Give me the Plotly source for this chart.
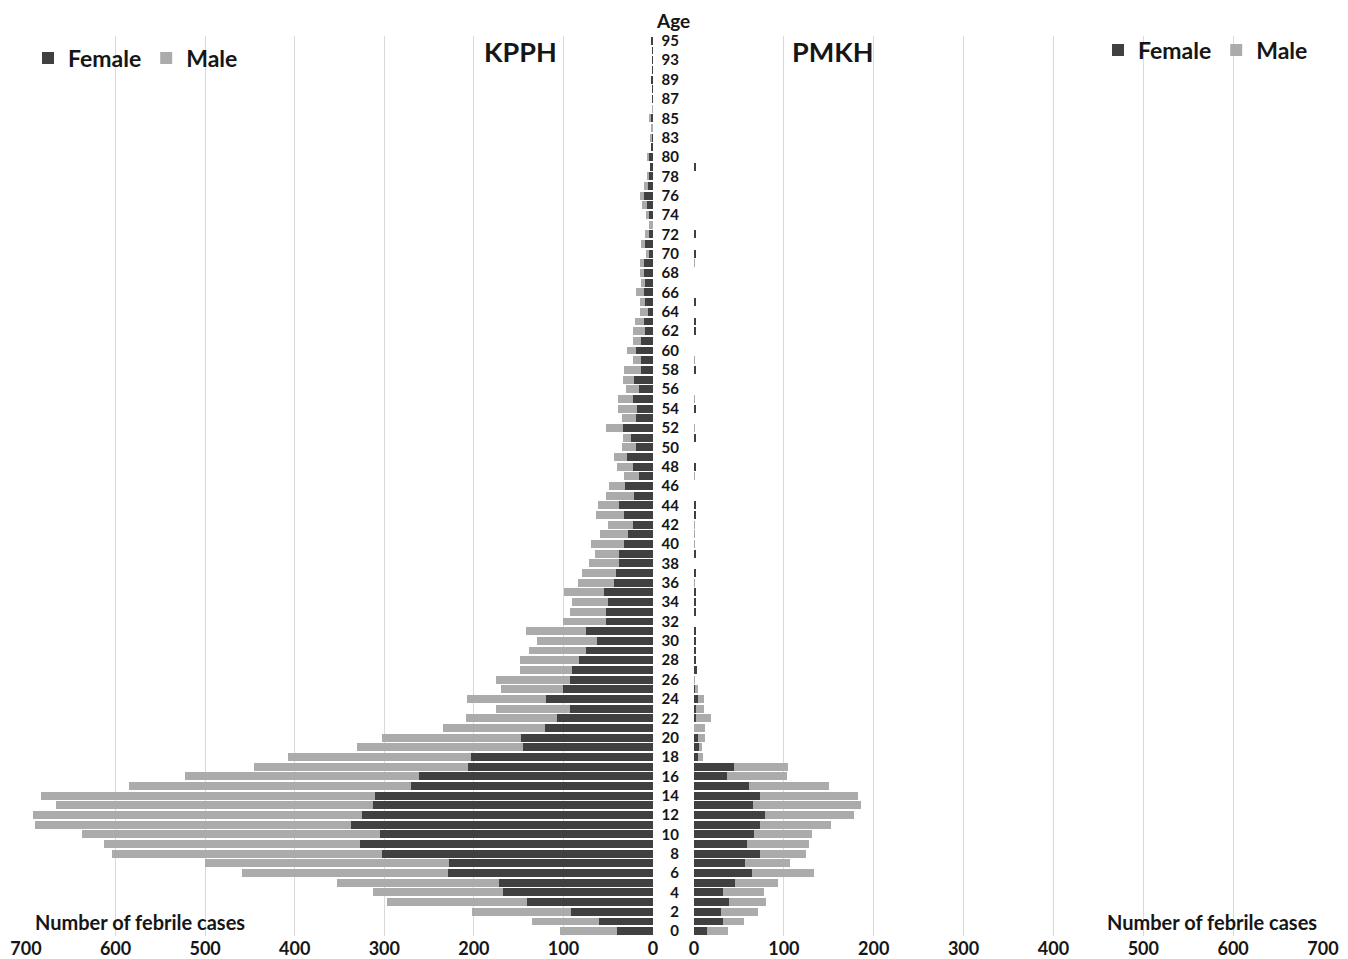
import plotly.graph_objects as go

# Age categories (two ages are not present in the data above 80)
ages = [str(a) for a in list(range(0, 81)) + [82, 83, 84, 85, 86, 87, 88, 89, 90, 93, 94, 95]]

kpph_female = [40, 60, 92, 141, 167, 172, 229, 228, 303, 327,
               305, 337, 325, 313, 310, 270, 261, 207, 203, 145,
               147, 121, 107, 93, 120, 101, 93, 90, 83, 75,
               63, 75, 53, 53, 50, 55, 44, 41, 38, 38,
               32, 28, 22, 32, 38, 21, 31, 16, 22, 29,
               19, 25, 33, 19, 18, 22, 16, 21, 13, 13,
               19, 13, 9, 10, 6, 9, 10, 9, 10, 10,
               5, 9, 5, 0, 5, 7, 10, 6, 5, 3,
               4, 2, 2, 1, 2, 0, 1, 1, 2, 1, 1, 1, 2]
kpph_male = [64, 75, 110, 156, 146, 181, 230, 272, 301, 286,
             332, 353, 367, 353, 373, 315, 262, 238, 205, 186,
             155, 114, 102, 82, 88, 69, 82, 59, 66, 64,
             67, 67, 47, 40, 40, 44, 40, 38, 34, 27,
             37, 31, 28, 32, 23, 32, 18, 16, 18, 15,
             16, 9, 20, 16, 21, 17, 14, 13, 19, 9,
             10, 9, 13, 10, 9, 6, 9, 4, 5, 5,
             3, 4, 4, 4, 3, 5, 5, 4, 2, 0,
             3, 0, 1, 1, 3, 1, 0, 0, 0, 0, 0, 0, 0]
pmkh_female = [15, 32, 30, 39, 32, 46, 64, 57, 73, 59,
               67, 73, 79, 66, 74, 61, 37, 45, 4, 6,
               5, 0, 2, 2, 4, 1, 0, 3, 2, 2,
               2, 2, 0, 2, 2, 2, 0, 2, 0, 2,
               0, 0, 0, 2, 2, 0, 0, 0, 2, 0,
               0, 2, 0, 0, 2, 0, 0, 0, 2, 0,
               0, 0, 2, 2, 0, 2, 0, 0, 0, 0,
               2, 0, 2, 0, 0, 0, 0, 0, 0, 2,
               0, 0, 0, 0, 0, 0, 0, 0, 0, 0, 0, 0, 0]
pmkh_male = [23, 24, 41, 41, 46, 47, 70, 50, 52, 69,
             64, 80, 99, 120, 108, 89, 67, 60, 6, 3,
             7, 12, 17, 9, 7, 4, 1, 0, 0, 0,
             0, 0, 0, 0, 0, 0, 1, 0, 0, 0,
             1, 1, 1, 0, 0, 0, 0, 1, 0, 0,
             0, 0, 1, 0, 0, 1, 0, 0, 0, 1,
             0, 0, 0, 0, 0, 0, 0, 0, 0, 1,
             0, 0, 0, 0, 0, 0, 0, 0, 0, 0,
             0, 0, 0, 0, 0, 0, 0, 0, 0, 0, 0, 0, 0]

x_ticks = [0, 100, 200, 300, 400, 500, 600, 700]
age_ticks = ages[::2]

DARK = "#404040"
LIGHT = "#ABABAB"
FONT = "Lato"
TXT = "#161616"

fig = go.Figure()
fig.add_trace(go.Bar(y=ages, x=kpph_female, orientation="h", name="Female",
                     marker=dict(color=DARK, line=dict(width=0)),
                     xaxis="x", yaxis="y", legend="legend"))
fig.add_trace(go.Bar(y=ages, x=kpph_male, orientation="h", name="Male",
                     marker=dict(color=LIGHT, line=dict(width=0)),
                     xaxis="x", yaxis="y", legend="legend"))
fig.add_trace(go.Bar(y=ages, x=pmkh_female, orientation="h", name="Female",
                     marker=dict(color=DARK, line=dict(width=0)),
                     xaxis="x2", yaxis="y2", legend="legend2"))
fig.add_trace(go.Bar(y=ages, x=pmkh_male, orientation="h", name="Male",
                     marker=dict(color=LIGHT, line=dict(width=0)),
                     xaxis="x2", yaxis="y2", legend="legend2"))

# page has an 8px body margin: figure is placed at (8, 8)
OFF = 8
W, H = 1348 - OFF, 959 - OFF
T, B = 36 - OFF, 23
PH = H - T - B

def px(x):
    return (x - OFF) / W

def py(y):
    return (959 - B - y) / PH

tickfont = dict(family=FONT, size=18, color=TXT, weight="bold")
xcommon = dict(tickvals=x_ticks, ticktext=[str(v) for v in x_ticks],
               showgrid=True, gridcolor="#D9D9D9", gridwidth=1,
               zeroline=False, showline=False, ticks="", tickfont=tickfont,
               automargin=False)

fig.update_layout(
    width=W, height=H,
    margin=dict(l=0, r=0, t=T, b=B, autoexpand=False),
    paper_bgcolor="white", plot_bgcolor="white",
    barmode="stack", bargap=0.18,
    font=dict(family=FONT, color=TXT),
    xaxis=dict(domain=[px(26), px(653)], range=[700, 0], anchor="y", **xcommon),
    xaxis2=dict(domain=[px(694), px(1323)], range=[0, 700], anchor="y2", **xcommon),
    yaxis=dict(type="category", categoryorder="array", categoryarray=ages,
               range=[-0.5, len(ages) - 0.5], showticklabels=False,
               showgrid=False, zeroline=False, anchor="x", automargin=False),
    yaxis2=dict(type="category", categoryorder="array", categoryarray=ages,
                range=[-0.5, len(ages) - 0.5], matches="y",
                tickvals=age_ticks, ticktext=age_ticks,
                showticklabels=True, side="left", ticks="outside", ticklen=11,
                tickcolor="rgba(0,0,0,0)", showgrid=False, zeroline=False,
                anchor="x2", automargin=False,
                tickfont=dict(family=FONT, size=15, color=TXT, weight="bold")),
    legend=dict(orientation="h", x=px(28), y=py(58), xanchor="left", yanchor="middle",
                bgcolor="rgba(0,0,0,0)", traceorder="normal",
                font=dict(family=FONT, size=23, color=TXT, weight="bold"),
                itemwidth=30),
    legend2=dict(orientation="h", x=px(1098), y=py(50), xanchor="left", yanchor="middle",
                 bgcolor="rgba(0,0,0,0)", traceorder="normal",
                 font=dict(family=FONT, size=23, color=TXT, weight="bold"),
                 itemwidth=30),
    annotations=[
        dict(text="KPPH", x=px(520), y=py(51), xref="paper", yref="paper",
             showarrow=False, xanchor="center", yanchor="middle",
             font=dict(family=FONT, size=27, color=TXT, weight="bold")),
        dict(text="PMKH", x=px(833), y=py(51), xref="paper", yref="paper",
             showarrow=False, xanchor="center", yanchor="middle",
             font=dict(family=FONT, size=27, color=TXT, weight="bold")),
        dict(text="Age", x=px(673), y=py(20), xref="paper", yref="paper",
             showarrow=False, xanchor="center", yanchor="middle",
             font=dict(family=FONT, size=19, color=TXT, weight="bold")),
        dict(text="Number of febrile cases", x=px(33), y=py(922), xref="paper", yref="paper",
             showarrow=False, xanchor="left", yanchor="middle",
             font=dict(family=FONT, size=20, color=TXT, weight="bold")),
        dict(text="Number of febrile cases", x=px(1319), y=py(922), xref="paper", yref="paper",
             showarrow=False, xanchor="right", yanchor="middle",
             font=dict(family=FONT, size=20, color=TXT, weight="bold")),
    ],
)

fig.write_html("out.html")
